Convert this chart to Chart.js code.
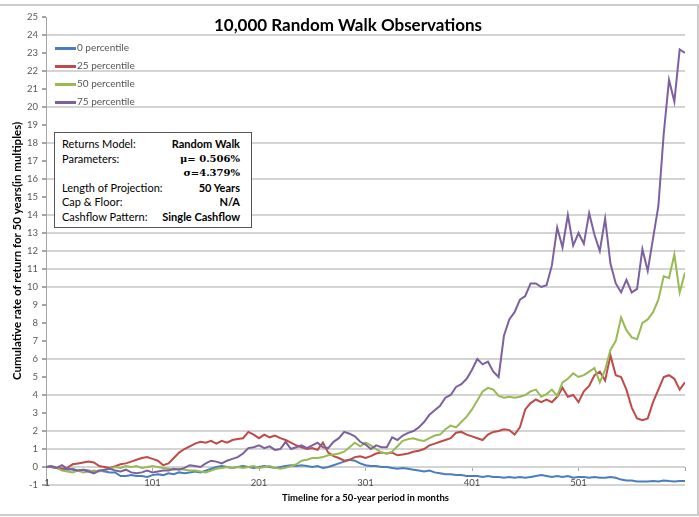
<!DOCTYPE html>
<html>
<head>
<meta charset="utf-8">
<script src="https://cdn.jsdelivr.net/npm/chart.js@4"></script>
<style>
  body { margin: 0; background: #fff; }
  #wrap { position: relative; width: 699px; height: 517px; overflow: hidden; }
  #frame { position: absolute; left: -2px; top: 4px; width: 697px; height: 508px; border: 2px solid #cccccc; }
  canvas { position: absolute; left: 0; top: 0; }
  #title { position: absolute; left: 148px; width: 400px; top: 14px; text-align: center;
           font: bold 17px Lato, sans-serif; color: #000; }
  #legend { position: absolute; left: 55px; top: 38px; font: 10px Lato, sans-serif; color: #555; }
  #legend .item { height: 18px; line-height: 18px; white-space: nowrap; }
  #legend .sw { display: inline-block; width: 21px; height: 3px; vertical-align: middle; margin-right: 1px; }
  #info { position: absolute; left: 54px; top: 132px; width: 198px; height: 96px; background: #fff;
          border: 1px solid #555; font: 11px Lato, sans-serif; color: #000; padding: 4px 11px 0 7px; box-sizing: border-box; }
  #info .row { display: flex; justify-content: space-between; height: 14.6px; line-height: 14.6px; }
  #info .v { font-weight: bold; }
  #info .serif { font-family: "DejaVu Serif", serif; font-size: 10px; }
</style>
</head>
<body>
<div id="wrap">
  <canvas id="walkChart" width="699" height="517"></canvas>
  <div id="frame"></div>
  <div id="title">10,000 Random Walk Observations</div>
  <div id="legend"></div>
  <div id="info">
    <div class="row"><span>Returns Model:</span><span class="v">Random Walk</span></div>
    <div class="row"><span>Parameters:</span><span class="v serif">μ= 0.506%</span></div>
    <div class="row"><span></span><span class="v serif">σ=4.379%</span></div>
    <div class="row"><span>Length of Projection:</span><span class="v">50 Years</span></div>
    <div class="row"><span>Cap &amp; Floor:</span><span class="v">N/A</span></div>
    <div class="row"><span>Cashflow Pattern:</span><span class="v">Single Cashflow</span></div>
  </div>
</div>
<script>
// Meses (cada 5 meses)
const months = [1,6,11,16,21,26,31,36,41,46,51,56,61,66,71,76,81,86,91,96,
  101,106,111,116,121,126,131,136,141,146,151,156,161,166,171,176,181,186,191,196,
  201,206,211,216,221,226,231,236,241,246,251,256,261,266,271,276,281,286,291,296,
  301,306,311,316,321,326,331,336,341,346,351,356,361,366,371,376,381,386,391,396,
  401,406,411,416,421,426,431,436,441,446,451,456,461,466,471,476,481,486,491,496,
  501,506,511,516,521,526,531,536,541,546,551,556,561,566,571,576,581,586,591,596,601];

const seriesNames = ['0 percentile', '25 percentile', '50 percentile', '75 percentile'];

const p0 = [0,0,-0.05,-0.1,-0.15,-0.1,-0.2,-0.15,-0.2,-0.25,
  -0.2,-0.25,-0.3,-0.3,-0.5,-0.5,-0.45,-0.5,-0.5,-0.55,
  -0.45,-0.4,-0.45,-0.35,-0.4,-0.3,-0.35,-0.3,-0.25,-0.3,
  -0.2,-0.1,0,0.05,0,-0.05,0,0.05,0,-0.05,
  0,0.05,0,-0.05,0,0.05,0.1,0.05,0.1,0.05,
  0,0.05,-0.05,0,0.1,0.2,0.3,0.4,0.35,0.2,
  0.1,0.05,0.05,0,0,-0.05,-0.1,-0.05,-0.1,-0.15,
  -0.2,-0.25,-0.2,-0.3,-0.35,-0.4,-0.4,-0.45,-0.45,-0.5,
  -0.5,-0.5,-0.55,-0.5,-0.55,-0.55,-0.6,-0.55,-0.6,-0.55,
  -0.6,-0.55,-0.5,-0.45,-0.5,-0.55,-0.5,-0.55,-0.5,-0.6,
  -0.55,-0.55,-0.6,-0.55,-0.6,-0.6,-0.55,-0.6,-0.7,-0.75,
  -0.75,-0.8,-0.8,-0.8,-0.78,-0.8,-0.75,-0.78,-0.8,-0.78,-0.78];

const p25 = [0,0,-0.05,-0.1,-0.05,0.15,0.2,0.25,0.3,0.25,
  0.05,0,-0.05,0.05,0.15,0.2,0.3,0.4,0.5,0.55,
  0.45,0.35,0.1,0.2,0.5,0.8,1.0,1.15,1.3,1.4,
  1.35,1.45,1.3,1.45,1.35,1.5,1.55,1.6,1.95,1.8,
  1.6,1.8,1.65,1.75,1.6,1.5,1.35,1.2,1.1,1.0,
  1.05,0.95,1.35,0.8,0.6,0.5,0.35,0.4,0.55,0.6,
  0.5,0.6,0.75,0.8,0.75,0.8,0.65,0.7,0.75,0.85,
  0.9,1.0,1.2,1.3,1.4,1.5,1.6,1.9,1.95,1.8,
  1.7,1.6,1.5,1.8,1.95,2.0,2.1,2.05,1.8,2.2,
  3.2,3.55,3.75,3.6,3.75,3.6,3.9,4.4,3.9,4.0,
  3.6,4.2,4.5,5.1,5.3,4.8,6.2,5.1,5.0,4.3,
  3.3,2.7,2.6,2.7,3.6,4.3,5.0,5.1,4.9,4.3,4.7];

const p50 = [0,0.05,-0.05,-0.2,-0.25,-0.3,-0.2,-0.3,-0.25,-0.2,
  -0.25,-0.15,-0.1,0,-0.05,0.05,0,0.05,-0.05,0,
  0.05,0,-0.05,-0.1,-0.15,-0.1,-0.15,-0.2,-0.2,-0.25,
  -0.3,-0.2,-0.1,-0.05,0,-0.05,0,-0.05,0,0.05,
  -0.05,0,0.05,-0.05,-0.1,-0.05,0.05,0.15,0.35,0.4,
  0.5,0.5,0.55,0.65,0.7,0.75,0.85,1.1,1.35,1.15,
  1.35,1.2,1.0,0.8,0.75,0.85,1.15,1.45,1.55,1.6,
  1.5,1.45,1.6,1.75,1.8,2.1,2.3,2.2,2.5,2.8,
  3.2,3.7,4.2,4.4,4.3,3.95,3.85,3.9,3.85,3.9,
  4.0,4.2,4.3,3.9,4.05,4.3,3.95,4.7,4.9,5.2,
  5.0,5.1,5.3,5.5,4.7,5.4,6.5,7.0,8.3,7.6,
  7.2,7.1,8.0,8.2,8.6,9.3,10.6,10.5,11.8,9.7,10.8];

const p75 = [0,0.05,-0.05,0.1,-0.1,-0.15,-0.2,-0.15,-0.25,-0.35,
  -0.2,-0.15,-0.1,-0.2,-0.25,-0.15,-0.3,-0.35,-0.3,-0.2,
  -0.3,-0.25,-0.2,-0.2,-0.1,-0.15,-0.05,0.1,0.05,0,
  0.2,0.35,0.3,0.2,0.35,0.45,0.55,0.75,1.05,1.1,
  1.2,1.05,1.15,0.95,1.0,1.4,1.0,1.1,1.2,1.05,
  1.2,1.35,1.1,1.05,1.4,1.6,1.95,1.85,1.7,1.4,
  1.25,1.0,1.2,1.1,1.1,1.65,1.5,1.75,1.9,2.0,
  2.2,2.5,2.9,3.15,3.4,3.85,4.0,4.45,4.6,4.9,
  5.4,6.0,5.7,5.85,5.3,5.0,7.3,8.2,8.6,9.3,
  9.5,10.2,10.2,10.0,10.1,11.2,13.3,12.2,14.0,12.3,
  13.0,12.4,14.1,12.9,12.0,13.8,11.3,10.2,9.7,10.4,
  9.7,9.9,12.1,10.9,12.7,14.5,18.5,21.5,20.3,23.2,23.0];

const xTickValues = [1, 101, 201, 301, 401, 501, 601];
const xTickLabels = ['\u00a01', '101', '201', '301', '401', '501', ''];

// Colores estilo Excel
const colores = ['#4a7ebb', '#be4b48', '#98b954', '#7d60a0'];
// Líneas de cuadrícula visibles en el original
const gridVisibles = [-1, 0, 1, 2, 4, 6, 10, 11, 12, 13, 14, 16, 18, 20, 22, 24];

const tickFont = { family: 'Lato', size: 9.5 };

const datasets = [p0, p25, p50, p75].map((serie, i) => ({
  label: seriesNames[i],
  data: serie.map((v, j) => ({ x: months[j], y: v })),
  borderColor: colores[i],
  backgroundColor: colores[i],
  borderWidth: 2,
  pointRadius: 0,
  tension: 0,
  order: 4 - i
}));

const setTicks = s => { s.ticks = xTickValues.map(v => ({ value: v })); };

const chart = new Chart(document.getElementById('walkChart'), {
  type: 'line',
  data: { datasets: datasets },
  options: {
    responsive: false,
    animation: false,
    layout: { padding: { top: 17, right: 14, left: 0, bottom: 0 } },
    plugins: { legend: { display: false }, tooltip: { enabled: false } },
    scales: {
      x: {
        type: 'linear', min: 1, max: 601,
        afterBuildTicks: setTicks,
        afterFit: s => { s.height = 32; },
        grid: { display: false, drawTicks: false },
        border: { display: false },
        ticks: { display: false },
        title: { display: true, text: 'Timeline for a 50-year period in months', color: '#000',
                 font: { family: 'Lato', size: 9.5, weight: 'bold' }, padding: { top: 0, bottom: 13 } }
      },
      // eje en y=0: marcas y etiquetas
      x2: {
        type: 'linear', axis: 'x', position: { y: 0 }, min: 1, max: 601,
        afterBuildTicks: setTicks,
        afterFit: s => { s.height = 0; },
        ticks: {
          autoSkip: false, maxRotation: 0, padding: 6, color: '#4d4d4d', font: tickFont, z: 1,
          callback: (v, i) => xTickLabels[i]
        },
        grid: { drawOnChartArea: false, drawTicks: true, tickLength: 4, tickColor: '#a6a6a6' },
        border: { display: false }
      },
      y: {
        min: -1, max: 25,
        afterFit: s => { s.width = 46; },
        ticks: { stepSize: 1, padding: 4, color: '#595959', font: tickFont },
        grid: {
          tickLength: 4, tickColor: '#a6a6a6', lineWidth: 2,
          color: c => gridVisibles.includes(c.tick.value) ? '#d4d4d4' : 'rgba(0,0,0,0)'
        },
        border: { display: true, color: '#a6a6a6', width: 1 },
        title: { display: true, text: 'Cumulative rate of return for 50 years(in multiples)', color: '#000',
                 font: { family: 'Lato', size: 11.5, weight: 'bold' }, padding: { top: 10, bottom: 0 } }
      }
    }
  }
});

// Leyenda HTML
const legend = document.getElementById('legend');
chart.data.datasets.forEach(ds => {
  const item = document.createElement('div');
  item.className = 'item';
  item.innerHTML = `<span class="sw" style="background:${ds.borderColor}"></span>${ds.label}`;
  legend.appendChild(item);
});
</script>
</body>
</html>
